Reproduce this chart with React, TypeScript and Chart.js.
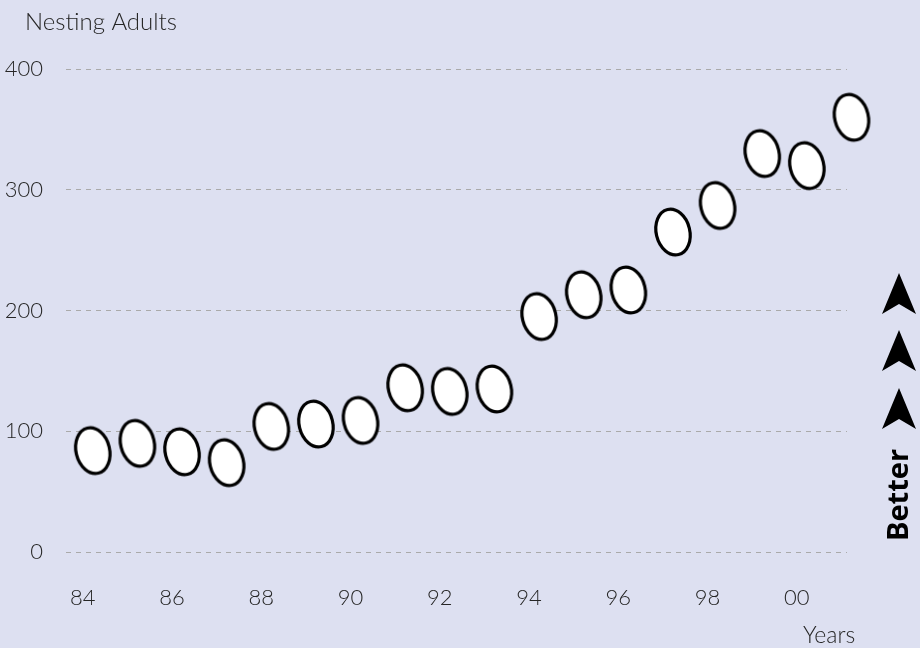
import React, { useEffect, useRef } from "react";
import { Chart, registerables } from "chart.js";

Chart.register(...registerables);

const years = [1984, 1985, 1986, 1987, 1988, 1989, 1990, 1991, 1992, 1993, 1994, 1995, 1996, 1997, 1998, 1999, 2000, 2001];
const nestingAdults = [84, 90, 83, 74, 104, 106, 109, 136, 133, 135, 195, 213, 217, 265, 287, 330, 320, 360];
const yTicks = [0, 100, 200, 300, 400];

const BG = "#dde0f1";
const TEXT = "#262626";

function makeEgg(): HTMLCanvasElement {
  const c = document.createElement("canvas");
  c.width = 46;
  c.height = 58;
  const ctx = c.getContext("2d")!;
  ctx.beginPath();
  ctx.ellipse(23, 29, 16.8, 23.2, -0.24, 0, Math.PI * 2);
  ctx.fillStyle = "#ffffff";
  ctx.fill();
  ctx.lineWidth = 3.2;
  ctx.strokeStyle = "#000000";
  ctx.stroke();
  return c;
}

const decorPlugin = {
  id: "decor",
  beforeDraw(chart: any) {
    const { ctx, width, height } = chart;
    ctx.save();
    ctx.fillStyle = BG;
    ctx.fillRect(0, 0, width, height);
    ctx.restore();
  },
  afterDraw(chart: any) {
    const { ctx } = chart;
    ctx.save();
    ctx.fillStyle = TEXT;
    ctx.textBaseline = "alphabetic";
    ctx.textAlign = "left";
    ctx.font = "300 24px Lato";
    ctx.fillText("Nesting Adults", 25, 30);
    ctx.font = "300 23px Lato";
    ctx.fillText("Years", 803, 643);

    // arrows
    ctx.fillStyle = "#000000";
    const arrowTops = [273, 330, 388];
    const cx = 899;
    arrowTops.forEach((t) => {
      ctx.beginPath();
      ctx.moveTo(cx, t);
      ctx.lineTo(cx + 17, t + 41);
      ctx.lineTo(cx, t + 31);
      ctx.lineTo(cx - 17, t + 41);
      ctx.closePath();
      ctx.fill();
    });

    // Better
    ctx.translate(908, 495);
    ctx.rotate(-Math.PI / 2);
    ctx.font = "bold 29px 'Open Sans'";
    ctx.textAlign = "center";
    ctx.fillText("Better", 0, 0);
    ctx.restore();
  },
};

export default function App() {
  const ref = useRef<HTMLCanvasElement>(null);
  useEffect(() => {
    document.body.style.margin = "0";
    document.body.style.background = BG;
    const egg = makeEgg();
    const chart = new Chart(ref.current!, {
      type: "scatter",
      data: {
        datasets: [
          {
            data: years.map((x, i) => ({ x, y: nestingAdults[i] })),
            pointStyle: egg as any,
            pointRadius: 20,
            showLine: false,
          },
        ],
      },
      options: {
        animation: false,
        responsive: false,
        clip: false as any,
        layout: { padding: { top: 69, right: 73, left: 0, bottom: 0 } },
        plugins: { legend: { display: false }, tooltip: { enabled: false } },
        scales: {
          x: {
            type: "linear",
            min: 1983.4,
            max: 2000.9,
            afterFit: (s: any) => {
              s.height = 96;
            },
            afterBuildTicks: (s: any) => {
              s.ticks = years.filter((y) => y % 2 === 0 && y <= 2000).map((v) => ({ value: v }));
            },
            grid: { display: false, drawTicks: false },
            border: { display: false },
            ticks: {
              padding: 33,
              labelOffset: -10,
              color: TEXT,
              font: { family: "Lato", size: 22, weight: 300 as any },
              callback: (v: any) => String(Number(v) % 100).padStart(2, "0"),
            },
          },
          y: {
            min: 0,
            max: 400,
            afterFit: (s: any) => {
              s.width = 66;
            },
            afterBuildTicks: (s: any) => {
              s.ticks = yTicks.map((v) => ({ value: v }));
            },
            grid: { color: "#aaaaaa", lineWidth: 1, drawTicks: false },
            border: { display: false, dash: [5, 5] },
            ticks: {
              padding: 23,
              color: TEXT,
              font: { family: "Lato", size: 22, weight: 300 as any },
            },
          },
        },
      },
      plugins: [decorPlugin],
    });
    return () => chart.destroy();
  }, []);
  return (
    <div style={{ width: 920, height: 648 }}>
      <canvas ref={ref} width={920} height={648} style={{ display: "block" }} />
    </div>
  );
}
